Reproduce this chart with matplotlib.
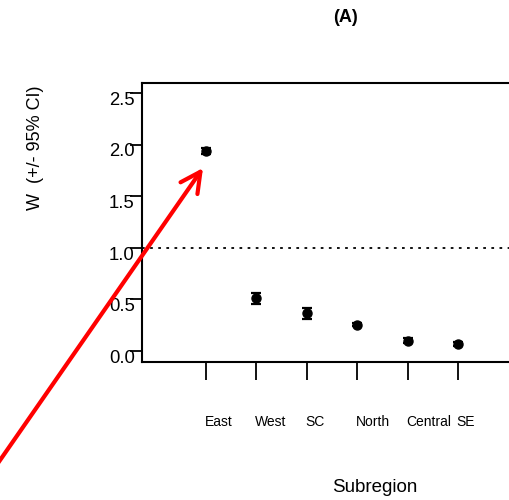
import matplotlib
matplotlib.use("Agg")
import matplotlib.pyplot as plt
from matplotlib.transforms import ScaledTranslation

plt.rcParams['font.family'] = ['Liberation Sans', 'DejaVu Sans']

categories = ["East", "West", "SC", "North", "Central", "SE"]
w_values = [1.94, 0.51, 0.365, 0.255, 0.10, 0.065]
ci_half = [0.03, 0.05, 0.05, 0.015, 0.025, 0.02]
y_ticks = [0.0, 0.5, 1.0, 1.5, 2.0, 2.5]
reference_line = 1.0

fig = plt.figure(figsize=(5.1, 5.0), dpi=100)
W, H = 510, 500
ax = fig.add_axes([142 / W, 138 / H, (525 - 142) / W, (417 - 138) / H])

x = list(range(len(categories)))
ax.errorbar(x, w_values, yerr=ci_half, fmt='o', color='black', ms=6.5,
            elinewidth=1.6, capsize=3.6, capthick=1.6, zorder=3)
ax.axhline(reference_line, color='black', lw=1.3, dashes=(1.5, 3.0))

ax.set_xlim(-1.27, 6.33)
ax.set_ylim(-0.107, 2.60)
ax.set_yticks(y_ticks)
ax.set_yticklabels([f"{v:.1f}" for v in y_ticks])
ax.set_xticks(x)
ax.set_xticklabels(categories)

for s in ax.spines.values():
    s.set_linewidth(1.5)

ax.tick_params(axis='y', length=8.6, width=1.3, pad=-3.3, labelsize=13.3, direction='out')
ax.tick_params(axis='x', length=13, width=1.3, pad=25.5, labelsize=10, direction='out')
for lab in ax.get_xticklabels():
    lab.set_ha('left')
    lab.set_transform(lab.get_transform() + ScaledTranslation(-1 / 72, 0, fig.dpi_scale_trans))
for lab in ax.get_yticklabels():
    lab.set_va('top')
    lab.set_transform(lab.get_transform() + ScaledTranslation(0, 1.0 / 72, fig.dpi_scale_trans))

ax.set_ylabel("W  (+/- 95% CI)", fontsize=13)
ax.yaxis.label.set_va('center')
ax.yaxis.set_label_coords((35 - 142) / (525 - 142), (362 - 148) / 279)

ax.set_xlabel("Subregion", fontsize=13.5)
ax.xaxis.label.set_va('center')
ax.xaxis.set_label_coords((375 - 142) / (525 - 142), (362 - 487) / 279)

fig.text(346 / W, 1 - 17 / H, "(A)", ha='center', va='center', fontsize=13, weight='bold')

ax.annotate('', xy=(203, H - 168), xytext=(-4, H - 466), xycoords='figure pixels',
            textcoords='figure pixels',
            arrowprops=dict(arrowstyle='->,head_length=0.72,head_width=0.37',
                            color='red', lw=3, mutation_scale=20,
                            shrinkA=0, shrinkB=0), annotation_clip=False)

fig.savefig("out.png", dpi=100)
